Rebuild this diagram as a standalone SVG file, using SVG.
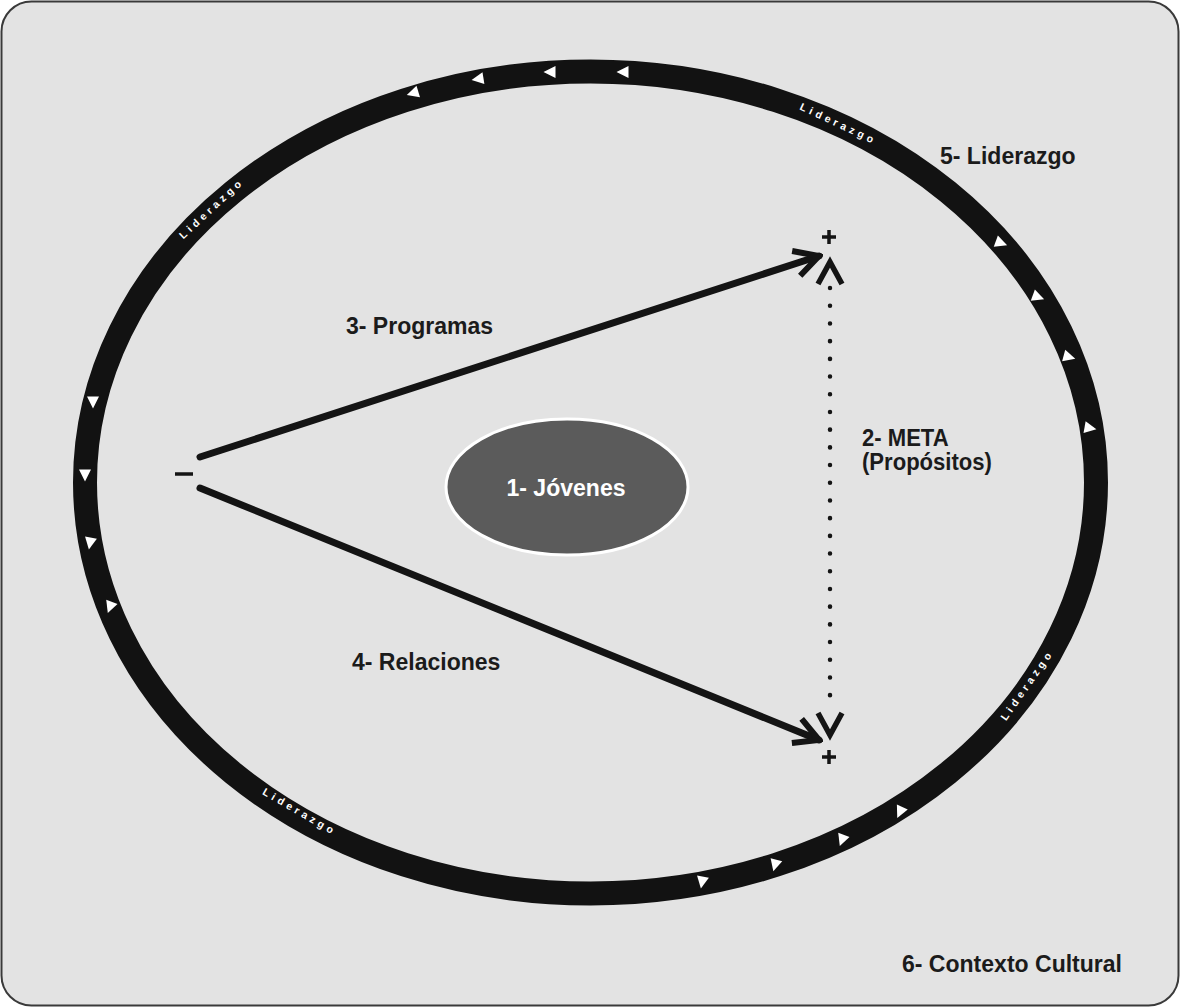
<svg xmlns="http://www.w3.org/2000/svg" width="1181" height="1008" viewBox="0 0 1181 1008">
  <style>
    .label { font-family: "Liberation Sans", Arial, sans-serif; font-weight: bold; font-size: 24.5px; fill: #1b1b1b; }
    .ring-text { font-family: "Liberation Sans", Arial, sans-serif; font-weight: bold; font-size: 10.5px; letter-spacing: 3.8px; fill: #ffffff; }
    .arrow { stroke: #141414; stroke-width: 7; stroke-linecap: round; fill: none; }
    .chev { stroke: #141414; stroke-width: 5.5; fill: none; stroke-linejoin: miter; }
    .sign { stroke: #141414; stroke-width: 3.5; fill: none; }
    .tri { fill: #ffffff; }
  </style>
  <defs>
    <marker id="head" viewBox="-32 -16 36 32" markerWidth="36" markerHeight="32" refX="0" refY="0" orient="auto" markerUnits="userSpaceOnUse">
      <path d="M -24 -13 L 0 0 L -24 13" stroke="#141414" stroke-width="6" fill="none"/>
    </marker>
    <path id="t" d="M -6.5 0 L 5.5 -6 L 5.5 6 Z"/>
  </defs>

  <!-- panel -->
  <rect x="1.5" y="1.5" width="1177" height="1004" rx="30" fill="#e3e3e3" stroke="#3a3a3a" stroke-width="2"/>

  <!-- 6: cultural context ring -->
  <g id="ring">
    <ellipse cx="590.5" cy="482.5" rx="505.5" ry="411" fill="none" stroke="#121212" stroke-width="24"/>
    <!-- top -->
    <use href="#t" class="tri" transform="translate(413,93) rotate(-17)"/>
    <use href="#t" class="tri" transform="translate(478,79) rotate(-9)"/>
    <use href="#t" class="tri" transform="translate(550,72)"/>
    <use href="#t" class="tri" transform="translate(623,72)"/>
    <!-- right -->
    <use href="#t" class="tri" transform="translate(1001,243) rotate(200)"/>
    <use href="#t" class="tri" transform="translate(1038,297) rotate(200)"/>
    <use href="#t" class="tri" transform="translate(1069,357) rotate(195)"/>
    <use href="#t" class="tri" transform="translate(1090,428) rotate(190)"/>
    <!-- left -->
    <use href="#t" class="tri" transform="translate(93,402) rotate(-90)"/>
    <use href="#t" class="tri" transform="translate(85,475) rotate(-90)"/>
    <use href="#t" class="tri" transform="translate(90,543) rotate(-80)"/>
    <use href="#t" class="tri" transform="translate(110,607) rotate(-70)"/>
    <!-- bottom -->
    <use href="#t" class="tri" transform="translate(702,882) rotate(-80)"/>
    <use href="#t" class="tri" transform="translate(775,865) rotate(-75)"/>
    <use href="#t" class="tri" transform="translate(842,840) rotate(-70)"/>
    <use href="#t" class="tri" transform="translate(900,812) rotate(-65)"/>
    <!-- ring labels -->
    <text class="ring-text" text-anchor="middle" transform="translate(837,127) rotate(25)">Liderazgo</text>
    <text class="ring-text" text-anchor="middle" transform="translate(214,211) rotate(-43)">Liderazgo</text>
    <text class="ring-text" text-anchor="middle" transform="translate(298,815) rotate(30)">Liderazgo</text>
    <text class="ring-text" text-anchor="middle" transform="translate(1030,687) rotate(-55)">Liderazgo</text>
  </g>

  <!-- 1: youth -->
  <g id="jovenes">
    <ellipse cx="567" cy="487" rx="121" ry="68" fill="#5b5b5b" stroke="#ffffff" stroke-width="3"/>
    <text class="label" text-anchor="middle" style="fill:#ffffff" transform="translate(566,496) scale(0.94,1)">1- Jóvenes</text>
  </g>

  <!-- connectors -->
  <g id="connectors">
    <line class="arrow" x1="200" y1="457" x2="819" y2="256" marker-end="url(#head)"/>
    <line class="arrow" x1="200" y1="488" x2="819" y2="740" marker-end="url(#head)"/>
    <line x1="830" y1="288" x2="830" y2="712" stroke="#141414" stroke-width="4.5" stroke-linecap="round" stroke-dasharray="0.1 17.6"/>
    <path class="chev" d="M 818 284 L 830 262 L 842 284"/>
    <path class="chev" d="M 818 713 L 830 735 L 842 713"/>
  </g>

  <!-- signs -->
  <g id="signs">
    <path class="sign" d="M 822 237 H 836 M 829 230 V 244"/>
    <path class="sign" d="M 822 757 H 836 M 829 750 V 764"/>
    <path class="sign" d="M 175 474 H 193"/>
  </g>

  <g id="programas"><text class="label" transform="translate(346,334) scale(0.94,1)">3- Programas</text></g>
  <g id="relaciones"><text class="label" transform="translate(352,670) scale(0.94,1)">4- Relaciones</text></g>
  <g id="meta">
    <text class="label" style="font-size:23px" transform="translate(862,446) scale(0.96,1)">2- META</text>
    <text class="label" style="font-size:23px" transform="translate(862,470) scale(0.96,1)">(Propósitos)</text>
  </g>
  <g id="liderazgo"><text class="label" transform="translate(940,164) scale(0.94,1)">5- Liderazgo</text></g>
  <g id="contexto"><text class="label" transform="translate(902,972) scale(0.94,1)">6- Contexto Cultural</text></g>
</svg>
